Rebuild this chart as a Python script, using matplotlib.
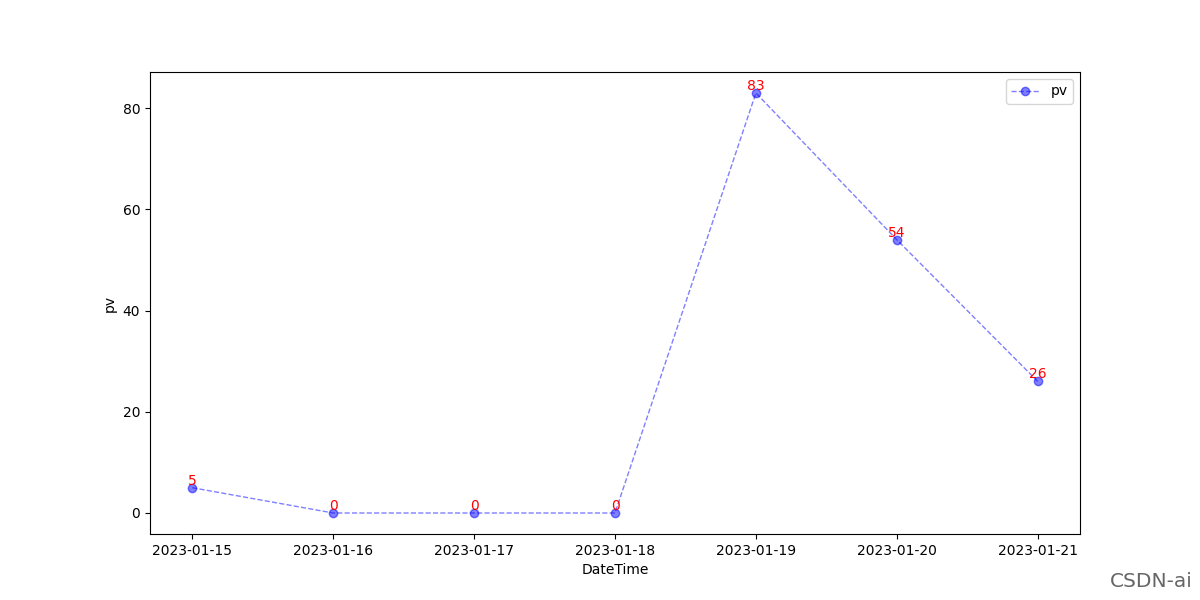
import matplotlib
matplotlib.use("Agg")
import matplotlib.pyplot as plt

dates = ["2023-01-15", "2023-01-16", "2023-01-17", "2023-01-18",
         "2023-01-19", "2023-01-20", "2023-01-21"]
pv = [5, 0, 0, 0, 83, 54, 26]

fig = plt.figure(figsize=(12, 6), dpi=100)
ax = fig.add_subplot(111)
ax.plot(dates, pv, color="blue", alpha=0.5, linestyle="--", marker="o",
        linewidth=1, label="pv")
for d, v in zip(dates, pv):
    ax.text(d, v, str(v), color="red", ha="center", va="bottom", fontsize=10)

ax.set_xlabel("DateTime")
ax.set_ylabel("pv")
ax.legend()

fig.text(0.994, 0.015, "CSDN-ai", ha="right", va="bottom", fontsize=14.5,
         color="#666666")

fig.savefig("out.png", dpi=100)
